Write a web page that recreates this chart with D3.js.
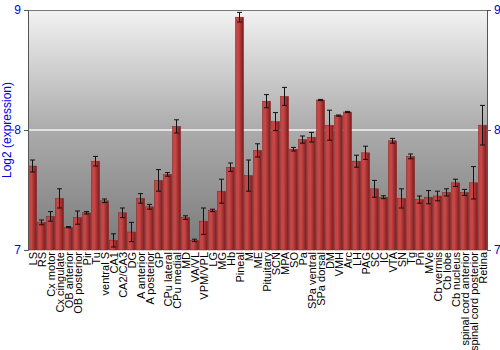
<!DOCTYPE html>
<html><head><meta charset="utf-8">
<script src="https://cdn.jsdelivr.net/npm/d3@7"></script>
<style>body{margin:0;background:#fff}svg{display:block}</style>
</head><body>
<svg id="c" width="500" height="350"></svg>
<script>
const categories = ["LS","RS","Cx motor","Cx cingulate","OB anterior","OB posterior","Pir","Tu","ventral S","CA1","CA2/CA3","DG","A anterior","A posterior","GP","CPu lateral","CPu medial","MD","VA/VL","VPM/VPL","LG","MG","Hb","Pineal","M","ME","Pituitary","SCN","MPA","SO","Pa","SPa ventral","SPa dorsal","DM","VMH","Arc","LH","PAG","SC","IC","VTA","SN","Tg","Pn","MVe","Cb vermis","Cb lobe","Cb nucleus","spinal cord anterior","spinal cord posterior","Retina"];
const values = [7.70,7.23,7.28,7.43,7.19,7.27,7.31,7.74,7.41,7.08,7.31,7.15,7.43,7.36,7.58,7.63,8.03,7.27,7.08,7.24,7.33,7.49,7.69,8.94,7.62,7.83,8.24,8.07,8.28,7.84,7.92,7.94,8.25,8.04,8.12,8.15,7.74,7.81,7.51,7.44,7.91,7.43,7.78,7.42,7.44,7.45,7.48,7.56,7.48,7.56,8.04];
const errors = [0.05,0.02,0.04,0.08,0.005,0.055,0.01,0.04,0.015,0.055,0.04,0.08,0.04,0.02,0.09,0.015,0.055,0.015,0.01,0.11,0.01,0.10,0.035,0.04,0.13,0.055,0.055,0.075,0.075,0.015,0.03,0.04,0.005,0.125,0.005,0.005,0.05,0.055,0.07,0.012,0.02,0.08,0.02,0.03,0.055,0.04,0.03,0.03,0.025,0.135,0.165];
const yTicks = [7,8,9];
const yTitle = "Log2 (expression)";

const svg = d3.select("#c");
const m = {l:28, r:13, t:10, b:100};
const W = 500, H = 350;
const x = d3.scaleBand().domain(categories).range([m.l, W-m.r]).paddingInner(0.1).paddingOuter(0.05);
const y = d3.scaleLinear().domain([7,9]).range([H-m.b, m.t]);

const defs = svg.append("defs");
const bg = defs.append("linearGradient").attr("id","bg").attr("x1",0).attr("x2",0).attr("y1",0).attr("y2",1);
bg.append("stop").attr("offset","0%").attr("stop-color","#f2f2f2");
bg.append("stop").attr("offset","50%").attr("stop-color","#ababab");
bg.append("stop").attr("offset","100%").attr("stop-color","#7a7a7a");
const bar = defs.append("linearGradient").attr("id","bar").attr("x1",0).attr("x2",1).attr("y1",0).attr("y2",0);
bar.append("stop").attr("offset","0%").attr("stop-color","#c24040");
bar.append("stop").attr("offset","35%").attr("stop-color","#c84848");
bar.append("stop").attr("offset","100%").attr("stop-color","#7c1a1a");

svg.append("rect").attr("x",m.l).attr("y",m.t).attr("width",W-m.l-m.r).attr("height",H-m.t-m.b).attr("fill","url(#bg)");
svg.append("line").attr("x1",m.l).attr("x2",W-m.r).attr("y1",y(8)).attr("y2",y(8)).attr("stroke","#f4f4f4").attr("stroke-width",1.5);

svg.append("g").selectAll("rect").data(categories).join("rect")
  .attr("x",d=>x(d)).attr("width",x.bandwidth())
  .attr("y",(d,i)=>y(values[i])).attr("height",(d,i)=>y(7)-y(values[i]))
  .attr("fill","url(#bar)").attr("stroke","#8a2020").attr("stroke-width",0.5);

const eg = svg.append("g").attr("stroke","#111").attr("stroke-width",1);
categories.forEach((d,i)=>{
  const cx = x(d)+x.bandwidth()/2, hi=y(values[i]+errors[i]), lo=y(values[i]-errors[i]);
  eg.append("line").attr("x1",cx).attr("x2",cx).attr("y1",hi).attr("y2",lo);
  eg.append("line").attr("x1",cx-2.5).attr("x2",cx+2.5).attr("y1",hi).attr("y2",hi);
  eg.append("line").attr("x1",cx-2.5).attr("x2",cx+2.5).attr("y1",lo).attr("y2",lo);
});

svg.append("line").attr("x1",m.l).attr("x2",W-m.r).attr("y1",m.t+0.5).attr("y2",m.t+0.5).attr("stroke","#777");
const la = svg.append("g").attr("transform",`translate(${m.l},0)`).call(d3.axisLeft(y).tickValues(yTicks).tickFormat(d3.format("d")).tickSize(4).tickPadding(3));
const ra = svg.append("g").attr("transform",`translate(${W-m.r},0)`).call(d3.axisRight(y).tickValues(yTicks).tickFormat(d3.format("d")).tickSize(4).tickPadding(3));
[la,ra].forEach(a=>{
  a.selectAll("path,line").attr("stroke","#555");
  a.selectAll("text").attr("fill","#0000ee").style("font-family","Liberation Sans, Arial, sans-serif").style("font-size","12px");
});

svg.append("text").attr("transform",`translate(11,${(m.t+H-m.b)/2}) rotate(-90)`).attr("text-anchor","middle")
  .attr("fill","#0000ee").style("font-family","Liberation Sans, Arial, sans-serif").style("font-size","12px").text(yTitle);

svg.append("g").selectAll("text").data(categories).join("text")
  .attr("transform",d=>`translate(${x(d)+x.bandwidth()/2+4},${H-m.b+2}) rotate(-90)`)
  .attr("text-anchor","end").style("font-family","Liberation Sans, Arial, sans-serif").style("font-size","11px").attr("fill","#000").text(d=>d);
</script>
</body></html>
